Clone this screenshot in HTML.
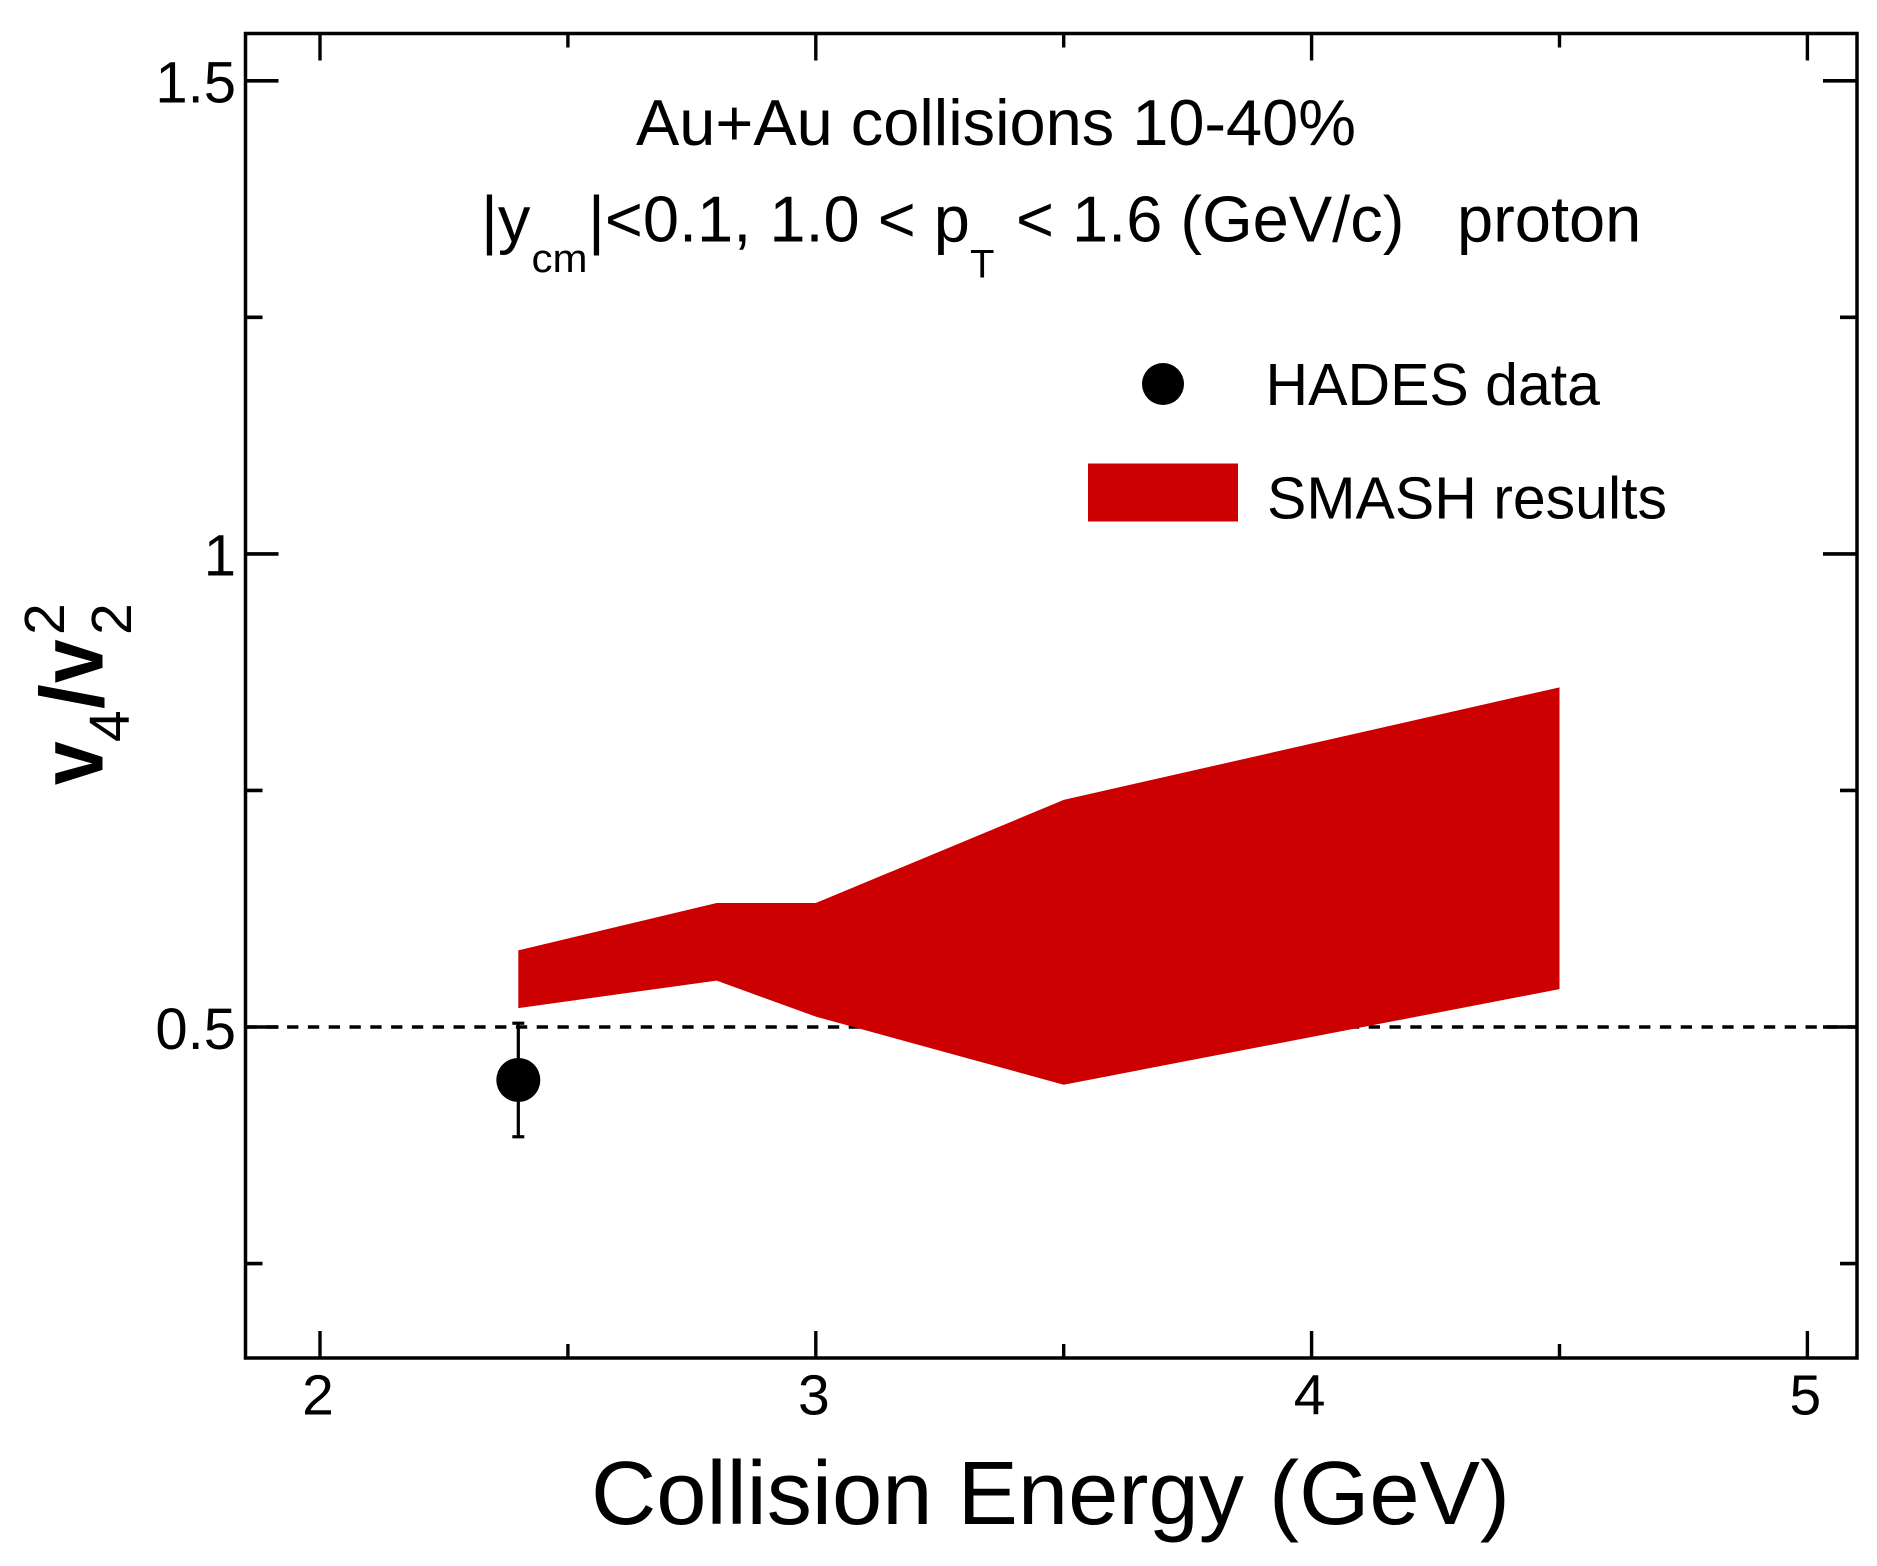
<!DOCTYPE html>
<html lang="en">
<head>
<meta charset="utf-8">
<title>v4/v2^2 vs Collision Energy</title>
<style>
html,body{margin:0;padding:0;background:#fff;width:1877px;height:1566px;overflow:hidden}
svg{display:block}
text{font-family:"Liberation Sans",Arial,sans-serif;fill:#000}
</style>
</head>
<body>
<svg id="chart" xmlns="http://www.w3.org/2000/svg" width="1877" height="1566" viewBox="0 0 1877 1566">
  <rect x="0" y="0" width="1877" height="1566" fill="#fff"/>
  <g id="marks"></g>
  <rect x="245.5" y="33.5" width="1611.5" height="1324.5" fill="none" stroke="#000" stroke-width="3.5"/>
  <g id="ticks"></g>

  <text x="636" y="145" font-size="65" textLength="720" lengthAdjust="spacingAndGlyphs">Au+Au collisions 10-40%</text>
  <text x="481" y="241.5" font-size="65">|y</text>
  <text x="531.5" y="272" font-size="40" textLength="56" lengthAdjust="spacingAndGlyphs">cm</text>
  <text x="588" y="241.5" font-size="65">|&lt;0.1, 1.0 &lt; p</text>
  <text x="970" y="277.5" font-size="40">T</text>
  <text x="1016" y="241.5" font-size="65">&lt; 1.6 (GeV/c)</text>
  <text x="1457" y="241.5" font-size="65">proton</text>

  <circle cx="1163" cy="384" r="21" fill="#000"/>
  <text x="1265.5" y="405" font-size="59">HADES data</text>
  <rect x="1088" y="463.5" width="150" height="58" fill="#cc0000"/>
  <text x="1267" y="518.5" font-size="59">SMASH results</text>

  <text x="591" y="1524" font-size="90" textLength="919" lengthAdjust="spacingAndGlyphs">Collision Energy (GeV)</text>

  <g>
    <text transform="translate(102.7 785) rotate(-90) scale(0.88 1)" font-size="89" font-weight="bold">v</text>
    <text transform="translate(129 742) rotate(-90)" font-size="57">4</text>
    <text transform="translate(102.7 709) rotate(-90)" font-size="89" font-weight="bold">/</text>
    <text transform="translate(102.7 683) rotate(-90) scale(0.88 1)" font-size="89" font-weight="bold">v</text>
    <text transform="translate(131 635) rotate(-90)" font-size="57">2</text>
    <text transform="translate(64 635) rotate(-90)" font-size="57">2</text>
  </g>
</svg>
<script>
// Axis ticks and labels
const xMajorTicks = [2, 3, 4, 5];
const xMinorTicks = [2.5, 3.5, 4.5];
const xTickLabels = ["2", "3", "4", "5"];
const yMajorTicks = [1.5, 1, 0.5];
const yMinorTicks = [1.25, 0.75, 0.25];
const yTickLabels = ["1.5", "1", "0.5"];
// SMASH band
const bandEnergy = [2.4, 2.8, 3.0, 3.5, 4.5];
const bandUpper = [0.581, 0.631, 0.631, 0.740, 0.859];
const bandLower = [0.520, 0.549, 0.511, 0.439, 0.540];
// HADES point
const hadesEnergy = [2.4];
const hadesValue = [0.444];
const hadesErrUp = [0.060];
const hadesErrDown = [0.060];
// Reference line
const referenceLevel = [0.5];

const NS = "http://www.w3.org/2000/svg";
const xScale = v => 320 + (v - 2) * 495.8;
const yScale = v => 80.8 + (1.5 - v) * 946.2;
const frame = { left: 245.5, right: 1857, top: 33.5, bottom: 1358 };
const marks = document.getElementById("marks");
const ticks = document.getElementById("ticks");

function make(tag, parent, attrs) {
  const el = document.createElementNS(NS, tag);
  for (const k in attrs) el.setAttribute(k, attrs[k]);
  parent.appendChild(el);
  return el;
}
function tickLine(x1, y1, x2, y2, w) {
  const el = make("line", ticks, { x1: x1, y1: y1, x2: x2, y2: y2, stroke: "#000", "stroke-width": w });
  
  
}

// Band
const bandTop = bandEnergy.map((e, i) => xScale(e) + "," + yScale(bandUpper[i]));
const bandBot = bandEnergy.map((e, i) => xScale(e) + "," + yScale(bandLower[i])).reverse();
// Reference dashed line (drawn first so the band covers it)
referenceLevel.forEach(v => {
  const el = make("line", marks, { x1: frame.left, y1: yScale(v), x2: frame.right, y2: yScale(v), stroke: "#000", "stroke-width": 3.6, "stroke-dasharray": "11.3 9.5" });
  
  
});
const band = make("polygon", marks, { points: bandTop.concat(bandBot).join(" "), fill: "#cc0000" });



// HADES point with error bars
hadesEnergy.forEach((e, i) => {
  const cx = xScale(e);
  const top = yScale(hadesValue[i] + hadesErrUp[i]);
  const bot = yScale(hadesValue[i] - hadesErrDown[i]);
  const bar = make("line", marks, { x1: cx, y1: top, x2: cx, y2: bot, stroke: "#000", "stroke-width": 3.2 });
  
  
  const capTop = make("line", marks, { x1: cx - 6, y1: top, x2: cx + 6, y2: top, stroke: "#000", "stroke-width": 3.2 });
  
  
  const capBot = make("line", marks, { x1: cx - 6, y1: bot, x2: cx + 6, y2: bot, stroke: "#000", "stroke-width": 3.2 });
  
  
  const dot = make("circle", marks, { cx: cx, cy: yScale(hadesValue[i]), r: 22, fill: "#000" });
  
  
});

// X ticks
xMajorTicks.forEach((v, i) => {
  tickLine(xScale(v), frame.top, xScale(v), frame.top + 27, 3.4);
  tickLine(xScale(v), frame.bottom, xScale(v), frame.bottom - 27, 3.4);
  const t = make("text", ticks, { x: xScale(v) - 2, y: 1414.5, "font-size": 57, "text-anchor": "middle" });
  t.textContent = xTickLabels[i];
  
  
});
xMinorTicks.forEach(v => {
  tickLine(xScale(v), frame.top, xScale(v), frame.top + 14, 3.4);
  tickLine(xScale(v), frame.bottom, xScale(v), frame.bottom - 14, 3.4);
});
// Y ticks
yMajorTicks.forEach((v, i) => {
  tickLine(frame.left, yScale(v), frame.left + 33, yScale(v), 3.6);
  tickLine(frame.right, yScale(v), frame.right - 34, yScale(v), 3.6);
  const t = make("text", ticks, { x: 236, y: yScale(v) + 21.8, "font-size": 58, "text-anchor": "end" });
  t.textContent = yTickLabels[i];
  
  
});
yMinorTicks.forEach(v => {
  tickLine(frame.left, yScale(v), frame.left + 17, yScale(v), 3.6);
  tickLine(frame.right, yScale(v), frame.right - 17, yScale(v), 3.6);
});
</script>
</body>
</html>
